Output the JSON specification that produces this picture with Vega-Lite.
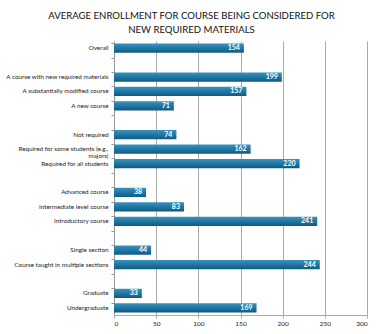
{
  "$schema": "https://vega.github.io/schema/vega-lite/v6.json",
  "width": 253,
  "height": 274,
  "autosize": {"type": "none"},
  "padding": {"left": 114, "top": 41, "right": 16, "bottom": 19},
  "background": "white",
  "title": {
    "text": ["AVERAGE ENROLLMENT FOR COURSE BEING CONSIDERED FOR", "NEW REQUIRED MATERIALS"],
    "font": "Lato",
    "fontSize": 9.6,
    "fontWeight": "normal",
    "color": "#111111",
    "anchor": "middle",
    "frame": "group",
    "dx": -49,
    "lineHeight": 14,
    "offset": 6
  },
  "config": {
    "view": {"stroke": null},
    "font": "Lato"
  },
  "data": {
    "values": [
      {"category": "Overall", "value": 154},
      {"category": "A course with new required materials", "value": 199},
      {"category": "A substantially modified course", "value": 157},
      {"category": "A new course", "value": 71},
      {"category": "Not required", "value": 74},
      {"category": "Required for some students (e.g.,\nmajors)", "value": 162},
      {"category": "Required for all students", "value": 220},
      {"category": "Advanced course", "value": 38},
      {"category": "Intermediate level course", "value": 83},
      {"category": "Introductory course", "value": 241},
      {"category": "Single section", "value": 44},
      {"category": "Course taught in multiple sections", "value": 244},
      {"category": "Graduate", "value": 33},
      {"category": "Undergraduate", "value": 169}
    ]
  },
  "encoding": {
    "y": {
      "field": "category",
      "type": "nominal",
      "sort": null,
      "scale": {
        "domain": [
          "Overall", "gap1",
          "A course with new required materials", "A substantially modified course", "A new course", "gap2",
          "Not required", "Required for some students (e.g.,\nmajors)", "Required for all students", "gap3",
          "Advanced course", "Intermediate level course", "Introductory course", "gap4",
          "Single section", "Course taught in multiple sections", "gap5",
          "Graduate", "Undergraduate"
        ],
        "paddingInner": 0.36,
        "paddingOuter": 0.18
      },
      "axis": {
        "title": null,
        "labelExpr": "indexof(datum.value, 'gap') == 0 ? '' : split(datum.value, '\\n')",
        "labelFontSize": 6.3,
        "labelColor": "#222222",
        "labelLineHeight": 7,
        "labelPadding": 3,
        "labelLimit": 120,
        "tickSize": 3,
        "tickColor": "#999999",
        "bandPosition": 0,
        "domainColor": "#999999",
        "grid": false
      }
    },
    "x": {
      "field": "value",
      "type": "quantitative",
      "scale": {"domain": [0, 300], "nice": false},
      "axis": {
        "title": null,
        "values": [0, 50, 100, 150, 200, 250, 300],
        "labelFontSize": 6.5,
        "labelColor": "#222222",
        "labelPadding": 2,
        "tickSize": 3,
        "tickColor": "#aaaaaa",
        "domainColor": "#aaaaaa",
        "gridColor": "#aaaaaa",
        "gridWidth": 1
      }
    }
  },
  "layer": [
    {
      "mark": {
        "type": "bar",
        "color": {
          "gradient": "linear",
          "x1": 0, "y1": 0, "x2": 0, "y2": 1,
          "stops": [
            {"offset": 0, "color": "#3a92bd"},
            {"offset": 0.5, "color": "#1f77a3"},
            {"offset": 1, "color": "#115a80"}
          ]
        }
      }
    },
    {
      "mark": {
        "type": "text",
        "align": "right",
        "baseline": "middle",
        "dx": -4,
        "color": "white",
        "fontSize": 7,
        "fontWeight": "bold"
      },
      "encoding": {"text": {"field": "value", "type": "quantitative"}}
    }
  ]
}
